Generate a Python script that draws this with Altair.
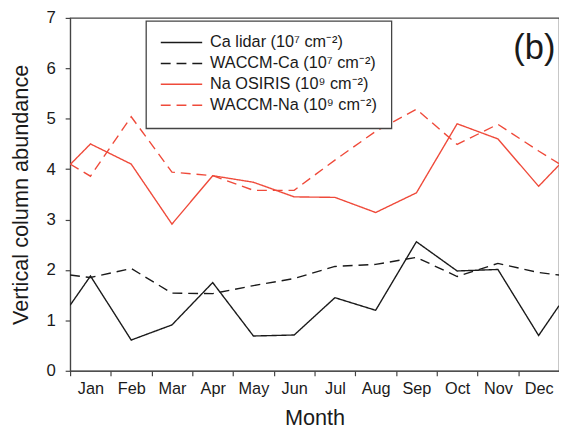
import altair as alt
import pandas as pd

month_names = ["Jan", "Feb", "Mar", "Apr", "May", "Jun", "Jul", "Aug", "Sep", "Oct", "Nov", "Dec"]
x_pos = [0.5, 1, 2, 3, 4, 5, 6, 7, 8, 9, 10, 11, 12, 12.5]

ca_lidar = [1.30, 1.88, 0.61, 0.91, 1.75, 0.69, 0.71, 1.45, 1.20, 2.56, 1.98, 2.01, 0.70, 1.29]
waccm_ca = [1.90, 1.85, 2.03, 1.54, 1.53, 1.69, 1.83, 2.07, 2.11, 2.25, 1.87, 2.13, 1.95, 1.90]
na_osiris = [4.09, 4.50, 4.10, 2.91, 3.87, 3.74, 3.45, 3.44, 3.14, 3.53, 4.90, 4.60, 3.66, 4.08]
waccm_na = [4.10, 3.86, 5.04, 3.94, 3.87, 3.58, 3.58, 4.18, 4.75, 5.19, 4.49, 4.89, 4.36, 4.11]

series_names = [
    "Ca lidar (10\u2077 cm\u207b\u00b2)",
    "WACCM-Ca (10\u2077 cm\u207b\u00b2)",
    "Na OSIRIS (10\u2079 cm\u207b\u00b2)",
    "WACCM-Na (10\u2079 cm\u207b\u00b2)",
]
series_values = [ca_lidar, waccm_ca, na_osiris, waccm_na]
series_colors = ["#1a1a1a", "#1a1a1a", "#ef4a3a", "#ef4a3a"]
series_dash = [[1, 0], [10, 6], [1, 0], [10, 6]]

rows = []
for name, vals in zip(series_names, series_values):
    for i, (x, v) in enumerate(zip(x_pos, vals)):
        rows.append({"series": name, "month": x, "value": v, "order": i})
df = pd.DataFrame(rows)

FONT = "Liberation Sans"
W, H = 496, 358
half = W / 12 / 2

label_expr = "[" + ",".join("'%s'" % m for m in month_names) + "][datum.value - 1]"

lines = alt.Chart(df).mark_line(strokeWidth=1.4, clip=True).encode(
    x=alt.X("month:Q",
            scale=alt.Scale(domain=[0.5, 12.5], nice=False, zero=False),
            axis=alt.Axis(values=list(range(1, 13)), labelExpr=label_expr,
                          tickOffset=-half, labelOffset=half,
                          title="Month", titleFontSize=22, titleFontWeight="normal",
                          titleX=W / 2, titleY=55, titleBaseline="alphabetic", titleAlign="center",
                          labelFontSize=16.5, labelPadding=5, grid=False,
                          tickSize=5, labelFlush=False, labelOverlap=False)),
    y=alt.Y("value:Q",
            scale=alt.Scale(domain=[0, 7], nice=False),
            axis=alt.Axis(values=list(range(0, 8)), title="Vertical column abundance",
                          titleFontSize=22, titleFontWeight="normal",
                          titleX=-50, titleY=H / 2, titleAngle=-90,
                          titleBaseline="middle", titleAlign="center",
                          labelFontSize=17, labelPadding=10, grid=False, tickSize=5)),
    color=alt.Color("series:N",
                    scale=alt.Scale(domain=series_names, range=series_colors),
                    legend=alt.Legend(title=None, orient="none", legendX=77, legendY=3,
                                      symbolType="stroke", symbolSize=1764,
                                      symbolStrokeWidth=1.5, labelFontSize=16.5,
                                      labelOffset=7, rowPadding=4.2, padding=14,
                                      clipHeight=16,
                                      strokeColor="#444", fillColor="white",
                                      labelLimit=400)),
    strokeDash=alt.StrokeDash("series:N",
                              scale=alt.Scale(domain=series_names, range=series_dash),
                              legend=None),
    detail="series:N",
    order="order:Q",
)

panel_df = pd.DataFrame({"label": ["(b)"]})
panel = alt.Chart(panel_df).mark_text(fontSize=35, font=FONT, align="center",
                                      baseline="alphabetic", color="#1a1a1a").encode(
    text="label:N", x=alt.value(471), y=alt.value(42))

chart = alt.layer(lines, panel).properties(
    width=W, height=H,
    autosize=alt.AutoSizeParams(type="none"),
    padding={"left": 63, "top": 7, "right": 0, "bottom": 56},
).configure(font=FONT).configure_axis(
    domainColor="#444", tickColor="#444", labelColor="#1a1a1a", titleColor="#1a1a1a",
    labelFont=FONT, titleFont=FONT, domainWidth=1.2, tickWidth=1.2,
).configure_legend(labelFont=FONT, labelColor="#1a1a1a", strokeWidth=1.3
).configure_view(stroke="#444", strokeWidth=1.2)

chart.save("out.html", embed_options={"renderer": "svg", "actions": False})
